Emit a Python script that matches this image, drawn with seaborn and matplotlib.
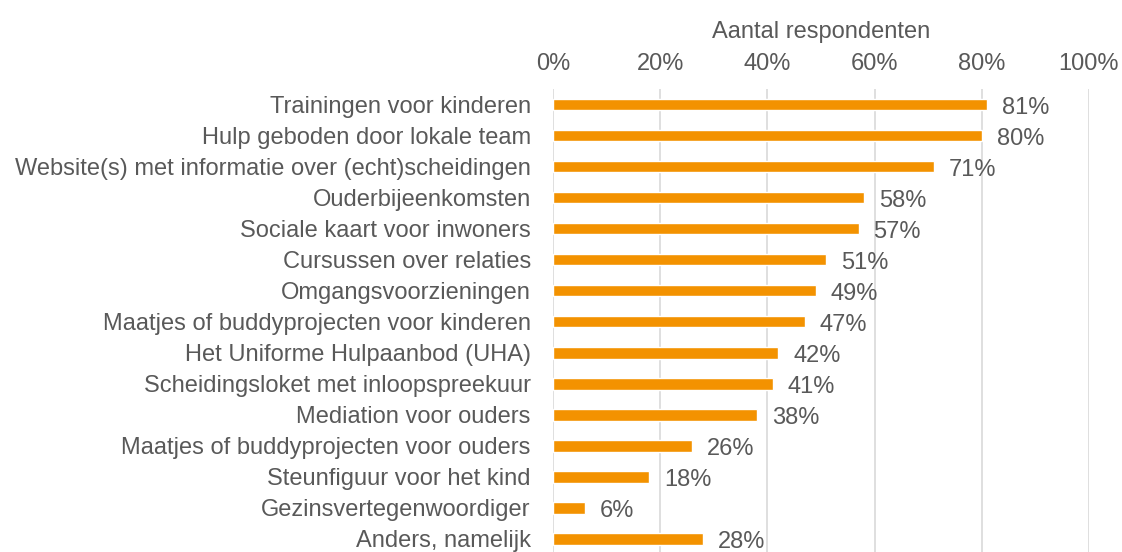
import matplotlib.pyplot as plt
import pandas as pd
import seaborn as sns
from matplotlib.ticker import PercentFormatter

categories = [
    "Trainingen voor kinderen",
    "Hulp geboden door lokale team",
    "Website(s) met informatie over (echt)scheidingen",
    "Ouderbijeenkomsten",
    "Sociale kaart voor inwoners",
    "Cursussen over relaties",
    "Omgangsvoorzieningen",
    "Maatjes of buddyprojecten voor kinderen",
    "Het Uniforme Hulpaanbod (UHA)",
    "Scheidingsloket met inloopspreekuur",
    "Mediation voor ouders",
    "Maatjes of buddyprojecten voor ouders",
    "Steunfiguur voor het kind",
    "Gezinsvertegenwoordiger",
    "Anders, namelijk",
]
percentages = [81, 80, 71, 58, 57, 51, 49, 47, 42, 41, 38, 26, 18, 6, 28]
x_ticks = [0, 20, 40, 60, 80, 100]


def main():
    df = pd.DataFrame({"categorie": categories, "pct": percentages})

    sns.set_theme(style="white")
    plt.rcParams["font.family"] = ["Liberation Sans", "DejaVu Sans"]
    text_color = "#595959"
    fs = 17

    fig = plt.figure(figsize=(11.22, 5.52), dpi=100)
    ax = fig.add_axes([553 / 1122, 0, (1089 - 553) / 1122, (552 - 89) / 552])

    sns.barplot(data=df, x="pct", y="categorie", color="#F39200",
                saturation=1, width=0.37, ax=ax, zorder=3)

    for i, v in enumerate(percentages):
        ax.text(v + 2.8, i + 0.1, f"{v}%", va="center", ha="left",
                fontsize=fs, color=text_color)

    ax.set_xlim(0, 100)
    ax.set_ylim(14.42, -0.5)
    ax.set_xticks(x_ticks)
    ax.xaxis.set_major_formatter(PercentFormatter(decimals=0))
    ax.xaxis.tick_top()
    ax.xaxis.set_label_position("top")
    ax.set_xlabel("Aantal respondenten", fontsize=fs, color=text_color, labelpad=11)
    ax.set_ylabel("")
    ax.tick_params(axis="x", length=0, pad=10, labelsize=fs, colors=text_color)
    ax.tick_params(axis="y", length=0, pad=16, labelsize=fs, colors=text_color)
    ax.grid(axis="x", color="#d9d9d9", linewidth=1.2, zorder=0)
    for s in ax.spines.values():
        s.set_visible(False)

    fig.savefig("out.png", dpi=100)


if __name__ == "__main__":
    main()
